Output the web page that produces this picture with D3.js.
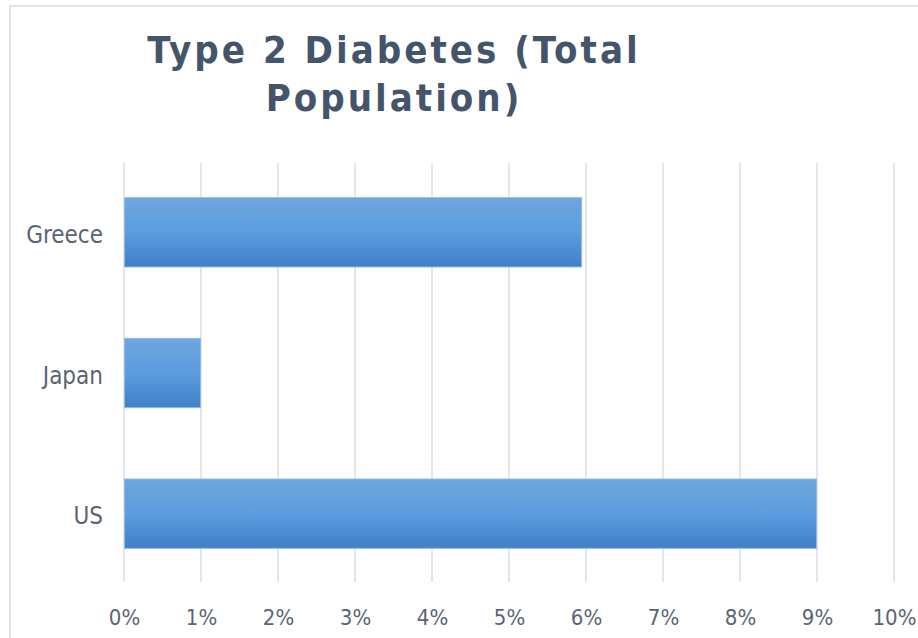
<!DOCTYPE html>
<html>
<head>
<meta charset="utf-8">
<script src="https://cdn.jsdelivr.net/npm/d3@7"></script>
<style>
  html, body { margin: 0; padding: 0; background: #fff; }
  svg { display: block; }
</style>
</head>
<body>
<svg id="chart" width="918" height="638"></svg>
<script>
// Share of total population with type 2 diabetes, by country (percent)
const categories = ["Greece", "Japan", "US"];
const values = [5.95, 1.0, 9.0];
const tickValues = [0, 1, 2, 3, 4, 5, 6, 7, 8, 9, 10];
const titleLines = ["Type 2 Diabetes (Total", "Population)"];

const svg = d3.select("#chart");
const W = 918, H = 638;

// Panel frame (top and left edges)
svg.append("path")
  .attr("d", `M10,${H} L10,6 L${W},6`)
  .attr("fill", "none")
  .attr("stroke", "#dfe4ec")
  .attr("stroke-width", 2);

// Bar gradient
const defs = svg.append("defs");
const grad = defs.append("linearGradient")
  .attr("id", "barGrad").attr("x1", 0).attr("y1", 0).attr("x2", 0).attr("y2", 1);
grad.append("stop").attr("offset", "0%").attr("stop-color", "#6fa6dc");
grad.append("stop").attr("offset", "50%").attr("stop-color", "#5b9de0");
grad.append("stop").attr("offset", "100%").attr("stop-color", "#3f80c6");

const x = d3.scaleLinear().domain([0, 10]).range([124, 894]);
const y = d3.scaleBand().domain(categories).range([162, 584])
  .paddingInner(0.5).paddingOuter(0.25);

// Vertical gridlines
svg.append("g").selectAll("line")
  .data(tickValues).join("line")
  .attr("x1", d => x(d)).attr("x2", d => x(d))
  .attr("y1", 163).attr("y2", 582)
  .attr("stroke", "#e3e6ee").attr("stroke-width", 2);

// Bars
svg.append("g").selectAll("rect")
  .data(categories.map((c, i) => ({ c, v: values[i] })))
  .join("rect")
  .attr("x", x(0) + 0.5)
  .attr("y", d => y(d.c) + 0.5)
  .attr("width", d => x(d.v) - x(0) - 1)
  .attr("height", y.bandwidth() - 1)
  .attr("fill", "url(#barGrad)")
  .attr("stroke", "#8dbbea")
  .attr("stroke-width", 1);

const labelFont = "'DejaVu Sans Condensed', 'DejaVu Sans', sans-serif";
const labelColor = "#5b6474";

// X axis tick labels
const xAxis = d3.axisBottom(x).tickValues(tickValues)
  .tickFormat(d => d + "%").tickSize(0).tickPadding(0);
const gx = svg.append("g").attr("transform", "translate(0,609)").call(xAxis);
gx.select(".domain").remove();
gx.selectAll("text")
  .attr("font-family", labelFont).attr("font-size", 22)
  .attr("fill", labelColor);

// Y axis category labels
const yAxis = d3.axisLeft(y).tickSize(0).tickPadding(0);
const gy = svg.append("g").attr("transform", "translate(103,3)").call(yAxis);
gy.select(".domain").remove();
gy.selectAll("text")
  .attr("font-family", labelFont).attr("font-size", 24)
  .attr("fill", labelColor);

// Title
svg.append("text")
  .attr("text-anchor", "middle")
  .attr("font-family", "'DejaVu Sans Condensed', 'DejaVu Sans', sans-serif")
  .attr("font-weight", "bold")
  .attr("font-size", 38)
  .attr("letter-spacing", 3)
  .attr("fill", "#44546a")
  .selectAll("tspan")
  .data(titleLines).join("tspan")
  .attr("x", 394)
  .attr("y", (d, i) => 63 + i * 48)
  .text(d => d);
</script>
</body>
</html>
